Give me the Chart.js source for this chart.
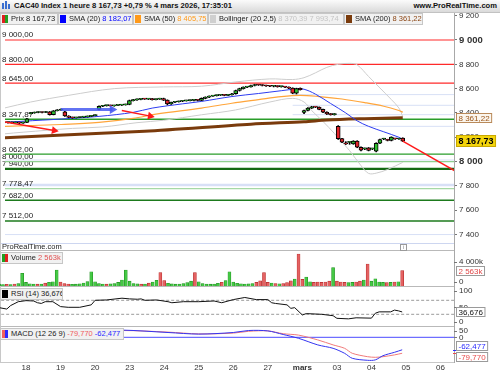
<!DOCTYPE html>
<html><head><meta charset="utf-8">
<script src="https://cdn.jsdelivr.net/npm/chart.js@4.4.1/dist/chart.umd.min.js"></script>
<style>
html,body{margin:0;padding:0;background:#fff;}
body{width:500px;height:375px;position:relative;overflow:hidden;font-family:"Liberation Sans",Arial,sans-serif;color:#222;}
canvas{position:absolute;left:0;top:0;z-index:2;}
.hdr{position:absolute;left:0;top:0;width:500px;height:12px;background:linear-gradient(#fbfbfb,#dadada);border-bottom:1px solid #c2c2c2;z-index:5;font-weight:bold;font-size:7.6px;line-height:12px;color:#111;}
.lg{position:absolute;height:10px;background:#f1f1f1;border:1px solid #c6c6c6;font-size:7.5px;line-height:10px;white-space:nowrap;overflow:hidden;z-index:5;color:#222;}
.ic{display:inline-block;vertical-align:top;margin:1px 3px 0 1px;width:6px;height:8px;}
.sep{position:absolute;left:0;width:455px;height:1px;background:#b9b9b9;z-index:1;}
.vl{position:absolute;width:1px;background:#a8a8a8;z-index:1;}
</style></head><body>
<div class="hdr">
  <span style="position:absolute;left:2px;top:3px;width:2px;height:6px;background:#3a6fd0"></span>
  <span style="position:absolute;left:5px;top:1px;width:2px;height:8px;background:#3a6fd0"></span>
  <span style="position:absolute;left:8px;top:4px;width:2px;height:5px;background:#3a6fd0"></span>
  <span style="position:absolute;left:14px;">CAC40 Index 1 heure 8 167,73 +0,79 % 4 mars 2026, 17:35:01</span>
  <span style="position:absolute;right:3px;">www.ProRealTime.com</span>
</div>
<div class="lg" style="left:0;top:13px;width:56px;"><span class="ic" style="background:linear-gradient(90deg,#e02020 50%,#22a022 50%)"></span>Prix 8 167,73</div>
<div class="lg" style="left:58px;top:13px;width:73px;"><span class="ic" style="background:#0000ff"></span>SMA (20) <span style="color:#0000ff">8 182,07</span></div>
<div class="lg" style="left:133px;top:13px;width:73px;"><span class="ic" style="background:#ff9a1a"></span>SMA (50) <span style="color:#ff9a1a">8 405,75</span></div>
<div class="lg" style="left:208px;top:13px;width:134px;"><span class="ic" style="background:#cfcfcf"></span>Bollinger (20 2,5) <span style="color:#c4c4c4">8 370,39 7 993,74</span></div>
<div class="lg" style="left:344px;top:13px;width:77px;"><span class="ic" style="background:#7a3b0c"></span>SMA (200) <span style="color:#8b4513">8 361,22</span></div>

<div class="sep" style="top:243px;background:#cdd6f0"></div>
<div style="position:absolute;left:2px;top:243px;font-size:7.5px;line-height:8px;z-index:3;color:#222">ProRealTime.com</div>
<div style="position:absolute;left:400px;top:244px;width:5px;height:5px;border:1px solid #9a9a9a;font-size:5px;line-height:5px;text-align:center;color:#777;z-index:3">i</div>
<div class="sep" style="top:250px;"></div>
<div class="sep" style="top:286px;"></div>
<div class="sep" style="top:326px;"></div>
<div class="sep" style="top:362px;background:#c8c8c8"></div>
<div class="vl" style="left:454px;top:13px;height:350px;"></div>
<div class="vl" style="left:0;top:13px;height:350px;background:#c8c8c8"></div>

<div class="lg" style="left:0;top:252px;width:61px;"><span class="ic" style="background:linear-gradient(90deg,#22a022 50%,#e02020 50%)"></span>Volume <span style="color:#e05050">2 563k</span></div>
<div class="lg" style="left:0;top:288px;width:61px;"><span class="ic" style="background:#000"></span>RSI (14) 36,676</div>
<div class="lg" style="left:0;top:328px;width:122px;"><span class="ic" style="background:linear-gradient(90deg,#f06060 50%,#2a2aff 50%)"></span>MACD (12 26 9) <span style="color:#f06060">-79,770</span> <span style="color:#2a2aff">-62,477</span></div>

<canvas id="cPrice" width="500" height="375"></canvas>
<canvas id="cVol" width="500" height="375"></canvas>
<canvas id="cRsi" width="500" height="375"></canvas>
<canvas id="cMacd" width="500" height="375"></canvas>

<script>
const FONT = '"Liberation Sans", Arial, sans-serif';

// ---------------- DATA ----------------
const dayLabels = ['18','19','20','23','24','25','26','27','mars','03','04','05','06'];
const barsPerDay = 9;
const firstBar = -7; // 17 févr., 11h

const opens = [
 8318,8320,8324,8318,8322,8316,8322,
 8395,8400,8404,8408,8404,8410,8386,8418,8424,
 8410,8375,8364,8360,8363,8366,8368,8372,8378,
 8430,8455,8460,8462,8458,8462,8464,8467,8470,
 8502,8508,8512,8515,8514,8517,8510,8514,8518,
 8505,8474,8488,8492,8496,8500,8502,8504,8507,
 8503,8520,8530,8538,8542,8546,8548,8545,8550,
 8558,8585,8600,8612,8615,8626,8632,8630,8626,
 8622,8620,8622,8616,8618,8612,8604,8562,8602,
 8405,8420,8440,8450,8448,8430,8406,8392,8386,
 8290,8190,8150,8158,8146,8168,8118,8104,8113,
 8104,8085,8151,8186,8176,8174,8188,8186,8193];
const closes = [
 8320,8324,8318,8322,8316,8322,8352,
 8400,8404,8408,8404,8410,8386,8418,8424,8430,
 8375,8364,8360,8363,8366,8368,8372,8378,8383,
 8455,8460,8462,8458,8462,8464,8467,8470,8502,
 8508,8512,8515,8514,8517,8510,8514,8518,8505,
 8474,8488,8492,8496,8500,8502,8504,8507,8503,
 8520,8530,8538,8542,8546,8548,8545,8550,8558,
 8585,8600,8612,8615,8626,8632,8630,8626,8622,
 8620,8622,8616,8618,8612,8604,8562,8600,8592,
 8420,8440,8450,8448,8430,8406,8392,8386,8392,
 8188,8160,8146,8160,8168,8118,8094,8106,8092,
 8106,8151,8182,8188,8174,8201,8187,8188,8167.73];
const highs = [
 8324,8327,8326,8325,8325,8325,8356,
 8404,8408,8411,8410,8413,8412,8420,8428,8434,
 8414,8378,8366,8365,8368,8370,8375,8380,8386,
 8458,8463,8465,8465,8464,8467,8470,8473,8506,
 8512,8516,8518,8519,8520,8520,8516,8521,8522,
 8508,8490,8494,8498,8502,8505,8507,8510,8509,
 8524,8533,8541,8545,8549,8551,8551,8553,8561,
 8588,8604,8615,8619,8629,8636,8635,8633,8629,
 8626,8626,8624,8621,8620,8615,8607,8604,8606,
 8424,8444,8455,8453,8450,8432,8410,8396,8396,
 8296,8192,8164,8164,8172,8172,8122,8112,8116,
 8110,8155,8186,8192,8184,8204,8192,8192,8196];
const lows = [
 8314,8317,8315,8316,8312,8314,8320,
 8392,8397,8401,8400,8402,8382,8384,8416,8421,
 8372,8360,8356,8358,8361,8364,8366,8370,8376,
 8426,8452,8456,8455,8455,8459,8461,8464,8467,
 8498,8504,8508,8511,8510,8506,8507,8511,8502,
 8466,8470,8484,8489,8493,8497,8499,8500,8499,
 8500,8516,8526,8535,8539,8543,8541,8542,8546,
 8554,8580,8596,8608,8612,8622,8626,8622,8618,
 8616,8614,8612,8612,8608,8600,8558,8556,8588,
 8394,8416,8436,8444,8426,8402,8387,8382,8382,
 8182,8155,8140,8142,8142,8114,8088,8098,8088,
 8098,8080,8148,8180,8170,8170,8182,8182,8165];
const volumes = [ // milliers
 300,250,280,250,330,420,2120,
 600,380,330,300,330,480,620,700,2670,
 650,420,330,280,300,360,500,720,2380,
 700,400,320,300,350,420,600,1000,2670,
 800,420,350,300,330,480,650,950,2220,
 900,450,350,300,320,400,550,800,2220,
 700,420,330,300,330,450,620,900,2380,
 650,450,380,320,350,420,600,850,2220,
 600,500,420,380,420,550,850,1150,5330,
 1100,1500,700,600,650,600,650,800,3050,
 800,650,600,550,600,650,800,1000,3670,
 800,1200,650,600,550,600,650,700,2563];

const sma20K = [-7,-2,8,18,27,32,40,45,53,60,66,70,72,75,79,83,86,89,93,97,98];
const sma20V = [8322,8332,8350,8372,8405,8440,8475,8495,8535,8560,8583,8597,8595,8555,8478,8400,8335,8290,8245,8200,8182.07];
const sma50K = [-7,8,18,27,33,45,53,60,66,71,76,82,88,93,97,98];
const sma50V = [8290,8305,8322,8355,8390,8440,8480,8510,8535,8545,8535,8515,8485,8455,8420,8405.75];
const sma200K = [-7,30,58,72,78,88,98];
const sma200V = [8196,8250,8308,8328,8342,8353,8361.22];
const bollUpK = [-7,0,10,22,35,45,54,63,69,72,75,78,81,84,86,89,92,95,97,98];
const bollUpV = [8440,8490,8545,8600,8614,8620,8655,8680,8675,8690,8730,8775,8800,8808,8795,8700,8605,8510,8440,8370.39];
const bollLoK = [-7,-2,11,19,28,35,45,54,63,69,72,74,77,80,84,87,89,91,94,98];
const bollLoV = [8228,8242,8273,8285,8320,8340,8385,8425,8490,8520,8490,8420,8330,8231,8090,7967,7903,7905,7935,7993.74];

const rsiK = [-7,-5,-4,-2,0,2,3,4,5,7,9,11,14,17,18,21,25,27,29,30,31,34,37,38,41,45,49,51,54,56,57,60,63,64,65,68,69,70,72,73,77,80,81,84,86,90,91,92,95,96,97,98];
const rsiV = [49,45,55,66,69,68,63,61,66,66,52,50,50,57,70,71,76,74,73,74,70,71,66,63,66,66,68,63,72,76,78,72,72,63,61,57,47,49,28,32,30,26,18.5,17,20,19,33,37,37,42,40,36.676];

const macdK = [-7,-2,8,18,25,37,45,54,58,63,67,71,76,80,83,85,89,91,93,96,98];
const macdV = [-6,-3,18,30,36,24,16,24,34,32,14,-5,-38,-55,-80,-105,-115,-113,-92,-75,-62.477];
const signalV = [-5,-4,12,26,34,26,17,21,30,32,18,11,-13,-38,-55,-80,-97,-100,-97,-88,-79.77];

const levelValues = [9000,8800,8645,8347.87,8062,8000,7940,7778.47,7682,7512];
const levelColors = ['#ff2a2a','#ff2a2a','#ff2a2a','#2a9d2a','#2a9d2a','#8fd08f','#136913','#a5d8a5','#1d7a1d','#1d7a1d'];
const levelWidths = [1.2,1.2,1.2,1.6,1.3,1.3,2.2,1.3,1.6,1.6];
const lightLevels = [8013,7807,7400];
const rayStartK = [69,69,69,81];
const rayValues = [8551,8463,8386,8290];
const arrow1K = [-6.8,6.2], arrow1V = [8326,8256];
const arrow2K = [24,31.5], arrow2V = [8421,8374];
const arrowBlueK = [8,21.5], arrowBlueV = [8428,8428];
const trendK = [98,112], trendV = [8167.73,7918];
const priceTicks = [7400,7600,7800,8000,8200,8400,8600,8800,9000,9200];

// ---------------- LAYOUT CONSTANTS ----------------
const X_MIN = -6.77, X_MAX = 111.5, W_AXIS = 46, H = 375;
const PRICE = {top:14, bottom:243, min:7330.6, max:9213.8};
const VOL = {top:251, bottom:286, min:0, max:5833};
const RSI = {top:287, bottom:326, min:-3.43, max:108};
const MACD = {top:327, bottom:362, min:-123.5, max:51.5};

// ---------------- HELPERS ----------------
function fmt(v, d){
  const s = Math.abs(v).toFixed(d).split('.');
  const i = s[0].replace(/\B(?=(\d{3})+(?!\d))/g,' ');
  return (v < 0 ? '-' : '') + i + (s[1] ? ',' + s[1] : '');
}
const pts = (ks, vs) => ks.map((k, i) => ({x:k, y:vs[i]}));
const barK = opens.map((_, i) => firstBar + i);
const GREEN = '#2fbf2f', RED = '#e3242b';
Chart.defaults.font.family = FONT;

function xScale(show){
  return {
    type:'linear', min:X_MIN, max:X_MAX, offset:false, display:show,
    grid:{display:false, drawTicks:false}, border:{display:false},
    afterBuildTicks: s => { s.ticks = dayLabels.map((_, i) => ({value:i*barsPerDay})); },
    afterFit: s => { if (show) s.height = 13; },
    ticks:{autoSkip:false, maxRotation:0, padding:1, color:'#333',
      font: c => ({family:FONT, size:8, weight:(c.tick && dayLabels[Math.round(c.tick.value/barsPerDay)]==='mars') ? 'bold' : 'normal'}),
      callback: v => dayLabels[Math.round(v/barsPerDay)] ?? ''}
  };
}
function baseOptions(panel, showX, yExtra){
  return {
    responsive:false, animation:false, events:[], devicePixelRatio:1,
    layout:{padding:{top:panel.top, bottom: showX ? 0 : H - panel.bottom, left:0, right:0}},
    plugins:{legend:{display:false}, tooltip:{enabled:false}},
    scales:{
      x: xScale(showX),
      y: Object.assign({type:'linear', position:'right', min:panel.min, max:panel.max,
        afterFit: s => { s.width = W_AXIS; },
        grid:{display:false}, border:{display:true, color:'#a8a8a8'}, ticks:{display:false}}, yExtra || {})
    }
  };
}
function sidePlugin(labels, tags){
  return {id:'side', afterDraw(chart){
    const ctx = chart.ctx, a = chart.chartArea, ys = chart.scales.y;
    ctx.save(); ctx.textBaseline = 'middle'; ctx.textAlign = 'left';
    labels.forEach(l => {
      const py = ys.getPixelForValue(l.v);
      const ty = Math.min(Math.max(py, a.top + 4), a.bottom - 4.5);
      ctx.strokeStyle = '#777'; ctx.lineWidth = 1;
      ctx.beginPath(); ctx.moveTo(a.right, Math.round(ty) + 0.5); ctx.lineTo(a.right + 3, Math.round(ty) + 0.5); ctx.stroke();
      ctx.fillStyle = '#333'; ctx.font = '8px ' + FONT;
      ctx.fillText(l.t, a.right + 5, ty);
    });
    const tg = tags.map(t => Object.assign({}, t, {y: ys.getPixelForValue(t.v), y0: ys.getPixelForValue(t.v)})).sort((p, q) => p.y - q.y);
    for (let i = 1; i < tg.length; i++) {
      if (tg[i].y - tg[i-1].y < 10.5) { const m = (tg[i].y + tg[i-1].y) / 2; tg[i-1].y = m - 5.25; tg[i].y = m + 5.25; }
    }
    tg.forEach(t => {
      ctx.font = (t.bold ? 'bold ' : '') + (t.size || 8) + 'px ' + FONT;
      const h = t.h || 10, w = ctx.measureText(t.t).width + 5;
      const x = a.right + 2, y0 = Math.round(t.y - h / 2);
      if (t.mark) { ctx.strokeStyle = t.color; ctx.beginPath(); ctx.moveTo(a.right - 1, Math.round(t.y0) + 0.5); ctx.lineTo(a.right + 3, Math.round(t.y0) + 0.5); ctx.stroke(); }
      ctx.fillStyle = t.bg; ctx.fillRect(x, y0, w, h);
      ctx.strokeStyle = t.border; ctx.lineWidth = 1; ctx.strokeRect(x + 0.5, y0 + 0.5, w - 1, h - 1);
      ctx.fillStyle = t.color; ctx.fillText(t.t, x + 2.5, y0 + h / 2 + 0.5);
    });
    ctx.restore();
  }};
}
const hline = (v, color, width, order, fromK) => ({type:'line', data:[{x: fromK ?? X_MIN - 1, y:v}, {x: X_MAX + 1, y:v}],
  borderColor:color, borderWidth:width, pointRadius:0, order:order});

// ---------------- PRICE CHART ----------------
const priceDatasets = [];
priceDatasets.push({type:'line', data:pts(arrow1K, arrow1V), borderColor:'#ff1a1a', borderWidth:1.5, pointRadius:[0,4.5], pointStyle:'triangle', pointRotation:[0,100], pointBackgroundColor:'#ff1a1a', pointBorderWidth:0, order:0});
priceDatasets.push({type:'line', data:pts(arrow2K, arrow2V), borderColor:'#ff1a1a', borderWidth:1.5, pointRadius:[0,4.5], pointStyle:'triangle', pointRotation:[0,101], pointBackgroundColor:'#ff1a1a', pointBorderWidth:0, order:0});
priceDatasets.push({type:'line', data:pts(arrowBlueK, arrowBlueV), borderColor:'rgba(70,90,240,0.85)', borderWidth:3, pointRadius:[0,5], pointStyle:'triangle', pointRotation:[0,90], pointBackgroundColor:'rgba(70,90,240,0.9)', pointBorderWidth:0, order:0});
priceDatasets.push({type:'line', data:pts(trendK, trendV), borderColor:'#ff1a1a', borderWidth:1.5, pointRadius:0, order:1});
priceDatasets.push({type:'bar', data:barK.map((k, i) => ({x:k, y:[opens[i], closes[i]]})), grouped:false, barThickness:4, minBarLength:1,
  backgroundColor: closes.map((c, i) => c >= opens[i] ? GREEN : RED), borderColor:'#000', borderWidth:1, borderSkipped:false, order:2});
priceDatasets.push({type:'bar', data:barK.map((k, i) => ({x:k, y:[lows[i], highs[i]]})), grouped:false, barThickness:1,
  backgroundColor:'#000', borderWidth:0, order:3});
priceDatasets.push({type:'line', data:pts(sma20K, sma20V), borderColor:'#2d3cf0', borderWidth:1, pointRadius:0, tension:0.35, order:4});
priceDatasets.push({type:'line', data:pts(sma50K, sma50V), borderColor:'#ffa53a', borderWidth:1.2, pointRadius:0, tension:0.35, order:5});
priceDatasets.push({type:'line', data:pts(sma200K, sma200V), borderColor:'#7a3b0c', borderWidth:3, pointRadius:0, tension:0.3, order:6});
priceDatasets.push({type:'line', data:pts(bollUpK, bollUpV), borderColor:'#cdcdcd', borderWidth:1, pointRadius:0, tension:0.35, order:7});
priceDatasets.push({type:'line', data:pts(bollLoK, bollLoV), borderColor:'#cdcdcd', borderWidth:1, pointRadius:0, tension:0.35, order:7});
levelValues.forEach((v, i) => priceDatasets.push(hline(v, levelColors[i], levelWidths[i], 8)));
lightLevels.forEach((v, i) => priceDatasets.push(hline(v, '#d8e0f6', i === 1 ? 2.5 : 1, 9)));
rayValues.forEach((v, i) => priceDatasets.push(hline(v, '#d8e0f6', 1, 9, rayStartK[i])));

// level texts: drawn after the light background lines, before the level lines and candles
let levelTextDone = false;
function drawLevelTexts(chart){
  const ctx = chart.ctx, ys = chart.scales.y;
  ctx.save(); ctx.font = '8px ' + FONT; ctx.fillStyle = '#222'; ctx.textBaseline = 'alphabetic'; ctx.textAlign = 'left';
  levelValues.forEach(v => ctx.fillText(fmt(v, 2), 2, ys.getPixelForValue(v) - 2.5));
  ctx.restore();
}
const levelTextPlugin = {id:'lvlText',
  beforeDatasetsDraw(){ levelTextDone = false; },
  beforeDatasetDraw(chart, args){ if (!levelTextDone && args.meta.order <= 8) { drawLevelTexts(chart); levelTextDone = true; } },
  afterDatasetsDraw(chart){ if (!levelTextDone) { drawLevelTexts(chart); levelTextDone = true; } }
};

new Chart(document.getElementById('cPrice'), {
  type:'bar', data:{datasets:priceDatasets},
  options: baseOptions(PRICE, false, {
    afterBuildTicks: s => { s.ticks = priceTicks.map(v => ({value:v})); },
    grid:{display:true, drawOnChartArea:false, drawTicks:true, tickLength:3, color:'#777'},
    ticks:{display:true, padding:2, color:'#333',
      font: c => { const major = c.tick && c.tick.value % 1000 === 0; return {family:FONT, size: major ? 9.5 : 8, weight: major ? 'bold' : 'normal'}; },
      callback: v => fmt(v, 0)}
  }),
  plugins:[levelTextPlugin, sidePlugin([], [
    {v: sma200V[sma200V.length-1], t: fmt(sma200V[sma200V.length-1], 2), color:'#9a5518', bg:'#fbf6ee', border:'#b98a5a'},
    {v: closes[closes.length-1], t: fmt(closes[closes.length-1], 2), color:'#000', bg:'#f3d40c', border:'#c9a800', bold:true, size:9, h:12}
  ])]
});

// ---------------- VOLUME CHART ----------------
const volUp = closes.map((c, i) => c >= (i > 0 ? closes[i-1] : opens[i]));
new Chart(document.getElementById('cVol'), {
  type:'bar',
  data:{datasets:[{data:barK.map((k, i) => ({x:k, y:volumes[i]})), grouped:false, barThickness:3,
    backgroundColor: volUp.map(u => u ? '#45c845' : '#e46262'), borderColor: volUp.map(u => u ? '#1f8f1f' : '#b52a2a'), borderWidth:0.6}]},
  options: baseOptions(VOL, false),
  plugins:[sidePlugin([{v:4000, t:'4 000k'}, {v:0, t:'0'}],
    [{v: volumes[volumes.length-1], t: fmt(volumes[volumes.length-1], 0) + 'k', color:'#e04848', bg:'#fff', border:'#9a9a9a'}])]
});

// ---------------- RSI CHART ----------------
new Chart(document.getElementById('cRsi'), {
  type:'line',
  data:{datasets:[
    {data:pts(rsiK, rsiV), borderColor:'#111', borderWidth:1, pointRadius:0, tension:0},
    {data:[{x:X_MIN-1, y:70}, {x:X_MAX+1, y:70}], borderColor:'#9a9a9a', borderWidth:1, borderDash:[3,2], pointRadius:0},
    {data:[{x:X_MIN-1, y:30}, {x:X_MAX+1, y:30}], borderColor:'#9a9a9a', borderWidth:1, borderDash:[3,2], pointRadius:0}
  ]},
  options: baseOptions(RSI, false),
  plugins:[sidePlugin([{v:100, t:'100'}, {v:50, t:'50'}, {v:0, t:'0'}],
    [{v: rsiV[rsiV.length-1], t: fmt(rsiV[rsiV.length-1], 3), color:'#111', bg:'#fff', border:'#9a9a9a'}])]
});

// ---------------- MACD CHART ----------------
new Chart(document.getElementById('cMacd'), {
  type:'line',
  data:{datasets:[
    {data:pts(macdK, macdV), borderColor:'#3434f0', borderWidth:1, pointRadius:0, tension:0.3},
    {data:pts(macdK, signalV), borderColor:'#f07a7a', borderWidth:1, pointRadius:0, tension:0.3},
    {data:[{x:X_MIN-1, y:0}, {x:X_MAX+1, y:0}], borderColor:'#4a4aff', borderWidth:1, pointRadius:0}
  ]},
  options: baseOptions(MACD, true),
  plugins:[sidePlugin([{v:50, t:'50'}, {v:0, t:'0'}],
    [{v: macdV[macdV.length-1], t: fmt(macdV[macdV.length-1], 3), color:'#2a2aff', bg:'#fff', border:'#9a9a9a', mark:true},
     {v: signalV[signalV.length-1], t: fmt(signalV[signalV.length-1], 3), color:'#e84a4a', bg:'#fff', border:'#9a9a9a', mark:true}])]
});
</script>
</body></html>
